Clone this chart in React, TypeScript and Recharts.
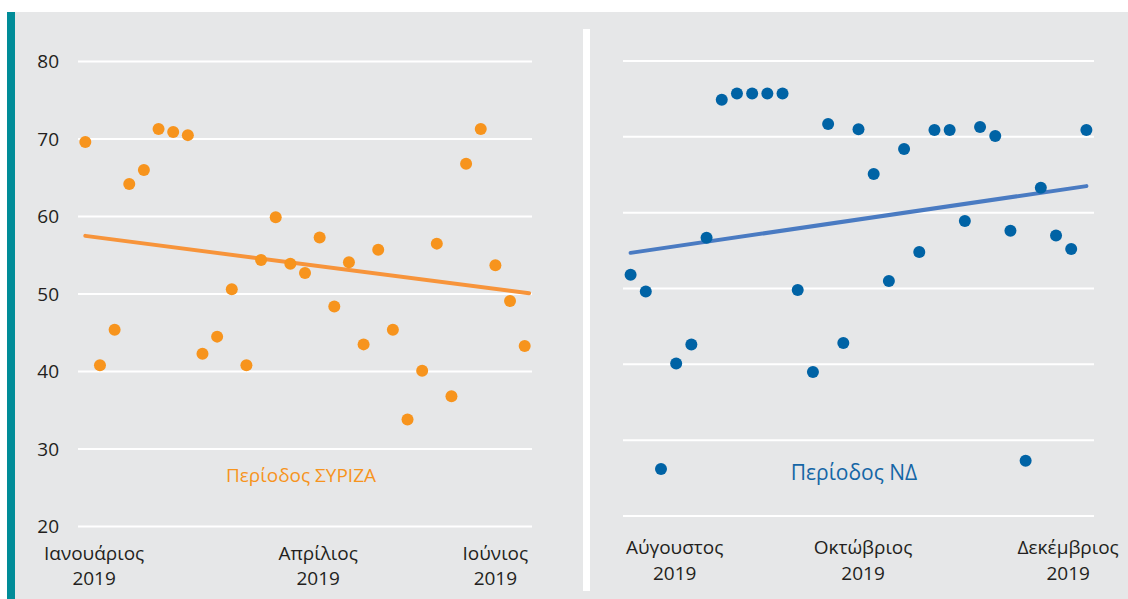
import React from 'react';
import { ScatterChart, Scatter, XAxis, YAxis, CartesianGrid, ReferenceLine } from 'recharts';

// left panel: ΣΥΡΙΖΑ period
const syrizaValues = [69.6, 40.8, 45.4, 64.2, 66.0, 71.3, 70.9, 70.5, 42.3, 44.5, 50.6, 40.8, 54.4, 59.9, 53.9, 52.7, 57.3, 48.4, 54.1, 43.5, 55.7, 45.4, 33.8, 40.1, 56.5, 36.8, 66.8, 71.3, 53.7, 49.1, 43.3];
const syrizaTrend = [{ x: 0, y: 57.5 }, { x: 30.3, y: 50.1 }];
const syrizaTickPos = [0.6, 15.9, 28];
const syrizaMonths = ['Ιανουάριος', 'Απρίλιος', 'Ιούνιος'];
const syrizaYears = ['2019', '2019', '2019'];

// right panel: ΝΔ period
const ndValues = [51.8, 49.6, 26.2, 40.1, 42.6, 56.7, 74.9, 75.7, 75.7, 75.7, 75.7, 49.8, 39.0, 71.7, 42.8, 71.0, 65.1, 51.0, 68.4, 54.8, 70.9, 70.9, 58.9, 71.3, 70.1, 57.6, 27.3, 63.3, 57.0, 55.2, 70.9];
const ndTrend = [{ x: 0, y: 54.7 }, { x: 30, y: 63.5 }];
const ndTickPos = [2.9, 15.3, 28.8];
const ndMonths = ['Αύγουστος', 'Οκτώβριος', 'Δεκέμβριος'];
const ndYears = ['2019', '2019', '2019'];

const yTicks = [20, 30, 40, 50, 60, 70, 80];

const FONT = '"Open Sans", sans-serif';
const TEXT = '#231f20';
const ORANGE = '#f7941d';
const ORANGE_LINE = '#f7943a';
const BLUE = '#0063a5';
const BLUE_LINE = '#4a7bc2';

const dot = (color: string) => (props: any) => (
  <circle cx={props.cx} cy={props.cy} r={6} fill={color} />
);

const monthTick = (pos: number[], months: string[], years: string[], dy1: number, dy2: number) => (props: any) => {
  const i = pos.indexOf(props.payload.value);
  return (
    <g>
      <text x={props.x} y={props.y + dy1} textAnchor="middle" fill={TEXT} fontSize={19} fontFamily={FONT}>
        {months[i]}
      </text>
      <text x={props.x} y={props.y + dy2} textAnchor="middle" fill={TEXT} fontSize={19} fontFamily={FONT}>
        {years[i]}
      </text>
    </g>
  );
};

const toPoints = (vals: number[]) => vals.map((v, i) => ({ x: i, y: v }));

export default function App() {
  return (
    <div style={{ position: 'absolute', left: 0, top: 0, width: 1128, height: 599, background: '#fff', overflow: 'hidden', fontFamily: FONT }}>
      <div style={{ position: 'absolute', left: 7, top: 12, width: 8, height: 587, background: '#008c98' }} />
      <div style={{ position: 'absolute', left: 15, top: 12, width: 1113, height: 587, background: '#e6e7e8' }} />
      <div style={{ position: 'absolute', left: 583, top: 29, width: 7, height: 562, background: '#fff' }} />

      <div style={{ position: 'absolute', left: 0, top: 0 }}>
        <ScatterChart width={583} height={599} margin={{ top: 61.5, right: 51, bottom: 12.5, left: 18 }}>
          <CartesianGrid vertical={false} stroke="#fff" strokeWidth={2} />
          <XAxis
            type="number"
            dataKey="x"
            domain={[-0.5, 30.5]}
            ticks={syrizaTickPos}
            interval={0}
            axisLine={false}
            tickLine={false}
            tickSize={0}
            height={60}
            tick={monthTick(syrizaTickPos, syrizaMonths, syrizaYears, 31, 56)}
          />
          <YAxis
            type="number"
            dataKey="y"
            domain={[20, 80]}
            ticks={yTicks}
            width={60}
            axisLine={false}
            tickLine={false}
            tickSize={0}
            tickMargin={19}
            tick={{ fill: TEXT, fontSize: 19, fontFamily: FONT }}
          />
          <Scatter data={toPoints(syrizaValues)} fill={ORANGE} shape={dot(ORANGE)} isAnimationActive={false} />
          <ReferenceLine segment={syrizaTrend} stroke={ORANGE_LINE} strokeWidth={4} strokeLinecap="round" />
        </ScatterChart>
      </div>

      <div style={{ position: 'absolute', left: 590, top: 0 }}>
        <ScatterChart width={538} height={599} margin={{ top: 61, right: 34, bottom: 23, left: 33 }}>
          <CartesianGrid vertical={false} stroke="#fff" strokeWidth={2} />
          <XAxis
            type="number"
            dataKey="x"
            domain={[-0.5, 30.5]}
            ticks={ndTickPos}
            interval={0}
            axisLine={false}
            tickLine={false}
            tickSize={0}
            height={60}
            tick={monthTick(ndTickPos, ndMonths, ndYears, 36, 62)}
          />
          <YAxis type="number" dataKey="y" domain={[20, 80]} ticks={yTicks} hide />
          <Scatter data={toPoints(ndValues)} fill={BLUE} shape={dot(BLUE)} isAnimationActive={false} />
          <ReferenceLine segment={ndTrend} stroke={BLUE_LINE} strokeWidth={4} strokeLinecap="round" />
        </ScatterChart>
      </div>

      <div style={{ position: 'absolute', left: 151, top: 462, width: 300, textAlign: 'center', color: ORANGE, fontSize: 19 }}>
        Περίοδος ΣΥΡΙΖΑ
      </div>
      <div style={{ position: 'absolute', left: 704, top: 458, width: 300, textAlign: 'center', color: '#1566a6', fontSize: 21 }}>
        Περίοδος ΝΔ
      </div>
    </div>
  );
}
